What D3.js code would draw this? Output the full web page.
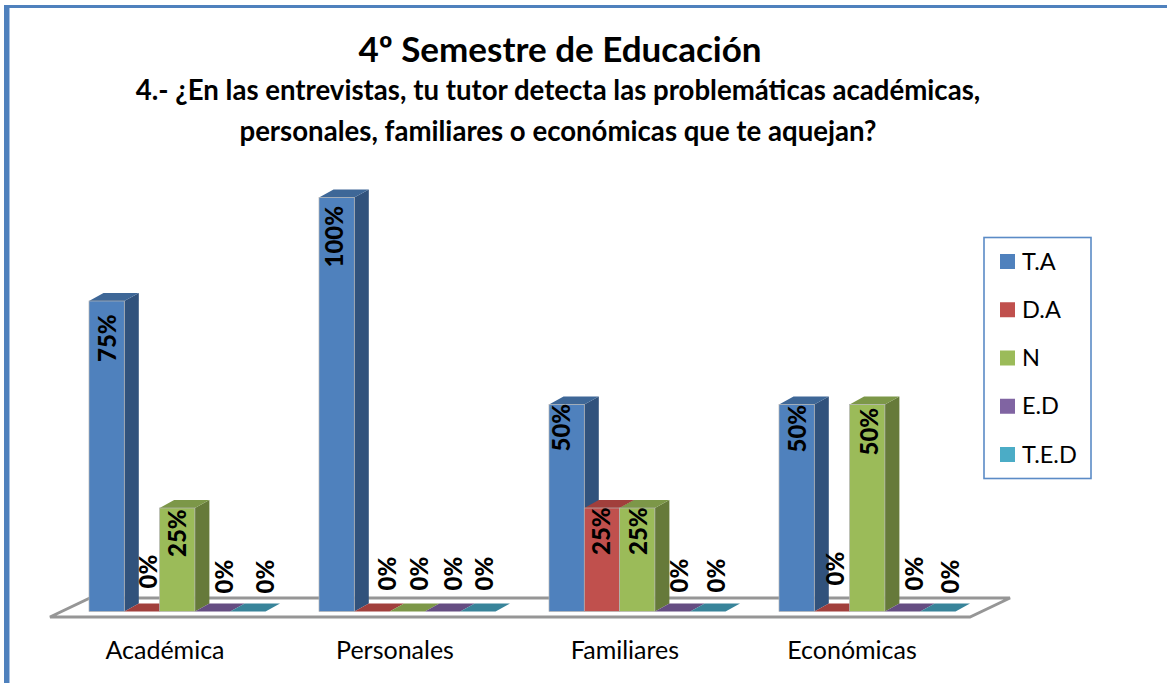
<!DOCTYPE html>
<html>
<head>
<meta charset="utf-8">
<style>
    html, body { margin: 0; padding: 0; background: #fff; }
    svg { display: block; }
    text { font-family: Lato, "Open Sans", sans-serif; fill: #000; }
    .title { font-size: 35px; font-weight: 700; text-anchor: middle; }
    .subtitle { font-size: 27.6px; font-weight: 700; text-anchor: middle; }
    .value { font-size: 24px; font-weight: 900; }
    .legend text { font-size: 23.5px; }
    .axis text { font-size: 25px; font-family: Lato, sans-serif; fill: #000; }
    .axis path, .axis line { display: none; }
</style>
</head>
<body>
<script src="https://d3js.org/d3.v7.min.js"></script>
<script>
var categories = ["Académica", "Personales", "Familiares", "Económicas"];
var seriesNames = ["T.A", "D.A", "N", "E.D", "T.E.D"];
var taValues = [75, 100, 50, 50];
var daValues = [0, 0, 25, 0];
var nValues = [25, 0, 25, 50];
var edValues = [0, 0, 0, 0];
var tedValues = [0, 0, 0, 0];
var seriesValues = [taValues, daValues, nValues, edValues, tedValues];

var titleText = "4º Semestre de Educación";
var subtitleLines = [
    "4.- ¿En las entrevistas, tu tutor detecta las problemáticas académicas,",
    "personales, familiares o económicas que te aquejan?"
];

// front, side, top colours for each series
var frontColors = ["#4f81bd", "#c0504d", "#9bbb59", "#8064a2", "#4bacc6"];
var sideColors = ["#31527c", "#8e3a38", "#667a3a", "#54406e", "#30798c"];
var topColors = ["#3e6797", "#a13f3c", "#7c9748", "#654d82", "#38849a"];

// the labels were dragged by hand in the original, so each one has its own nudge
// [dx from bar centre, dy from bar top to text start], indexed by series then category
var labelNudge = [
    [[0, 61], [-3, 70], [-6, 47], [0, 48]],
    [[6, -23], [15, -21], [-1, 47], [3, -26]],
    [[-1, 49], [11, -21], [0, 47], [1, 51]],
    [[11, -18], [10, -21], [6, -19], [11, -21]],
    [[17, -18], [6, -21], [8, -19], [12, -18]]
];

var width = 1167, height = 683;
var depthX = 14.5, depthY = 8;

var svg = d3.select("body").append("svg")
    .attr("width", width)
    .attr("height", height);

// outer frame, only top and left are in the picture
svg.append("rect").attr("x", 4).attr("y", 5).attr("width", 1163).attr("height", 3).attr("fill", "#4f81bd");
svg.append("rect").attr("x", 4).attr("y", 5).attr("width", 5).attr("height", 678).attr("fill", "#4f81bd");
svg.append("rect").attr("x", 9).attr("y", 8).attr("width", 1).attr("height", 675).attr("fill", "#a9c2e2");

svg.append("text").attr("class", "title").attr("x", 560).attr("y", 62).text(titleText);
svg.selectAll(".subtitle").data(subtitleLines).enter().append("text")
    .attr("class", "subtitle")
    .attr("x", 558)
    .attr("y", function(d, i) { return 100 + i * 40.5; })
    .text(function(d) { return d; });

// scales
var x0 = d3.scaleBand().domain(categories).range([89, 1009]);
var x1 = d3.scaleBand().domain(seriesNames).range([0, 176.5]);
var y = d3.scaleLinear().domain([0, 100]).range([611.5, 197.5]);

// floor
var floor = [[50, 617], [970, 617], [1010, 598], [90, 598]];
svg.append("polygon")
    .attr("points", floor.join(" "))
    .attr("fill", "#fff")
    .attr("stroke", "#969696")
    .attr("stroke-width", 3);

// flatten to one record per bar
var bars = [];
seriesNames.forEach(function(s, si) {
    categories.forEach(function(c, ci) {
        bars.push({ cat: c, series: s, si: si, ci: ci, value: seriesValues[si][ci] });
    });
});
bars.sort(function(a, b) { return a.ci - b.ci || a.si - b.si; });

var bar = svg.selectAll(".bar").data(bars).enter().append("g").attr("class", "bar");

function left(d) { return x0(d.cat) + x1(d.series); }

bar.append("polygon")
    .attr("fill", function(d) { return sideColors[d.si]; })
    .attr("points", function(d) {
        var r = left(d) + x1.bandwidth();
        return [[r, y(d.value)], [r + depthX, y(d.value) - depthY], [r + depthX, y(0) - depthY], [r, y(0)]].join(" ");
    })
    .attr("display", function(d) { return d.value ? null : "none"; });

bar.append("polygon")
    .attr("fill", function(d) { return topColors[d.si]; })
    .attr("points", function(d) {
        var l = left(d), r = l + x1.bandwidth(), t = y(d.value);
        return [[l, t], [r, t], [r + depthX, t - depthY], [l + depthX, t - depthY]].join(" ");
    });

bar.append("rect")
    .attr("x", left)
    .attr("y", function(d) { return y(d.value); })
    .attr("width", x1.bandwidth())
    .attr("height", function(d) { return y(0) - y(d.value); })
    .attr("fill", function(d) { return frontColors[d.si]; })
    .attr("stroke", "#b5b5b5")
    .attr("stroke-width", function(d) { return d.value ? 0.7 : 0; });

// value labels go last so nothing covers them
svg.selectAll(".value").data(bars).enter().append("text")
    .attr("class", "value")
    .attr("dominant-baseline", "central")
    .attr("transform", function(d) {
        var n = labelNudge[d.si][d.ci];
        var px = left(d) + x1.bandwidth() / 2 + n[0];
        var py = y(d.value) + n[1];
        return "translate(" + px + "," + py + ") rotate(-90)";
    })
    .text(function(d) { return d.value + "%"; });

// category axis, labels sit left of the band centres like the original
var axis = svg.append("g")
    .attr("class", "axis")
    .attr("transform", "translate(-39,641)")
    .call(d3.axisBottom(x0).tickSize(0).tickPadding(0))
    .attr("font-family", null)
    .attr("font-size", null);
// last label is a little further left in the original
axis.selectAll(".tick text").attr("dx", function(d) { return d === "Económicas" ? -3 : 0; });

// legend
svg.append("rect")
    .attr("x", 984).attr("y", 237.5).attr("width", 107).attr("height", 241)
    .attr("fill", "#fff").attr("stroke", "#5b8bc6").attr("stroke-width", 1.6);

var legendY = d3.scalePoint().domain(seriesNames).range([261.5, 454.5]);
var item = svg.selectAll(".legend").data(seriesNames).enter().append("g")
    .attr("class", "legend")
    .attr("transform", function(d) { return "translate(1000," + legendY(d) + ")"; });
item.append("rect")
    .attr("y", -7.5).attr("width", 15).attr("height", 15)
    .attr("fill", function(d, i) { return frontColors[i]; });
item.append("text")
    .attr("x", 22).attr("y", 8)
    .text(function(d) { return d; });
</script>
</body>
</html>
